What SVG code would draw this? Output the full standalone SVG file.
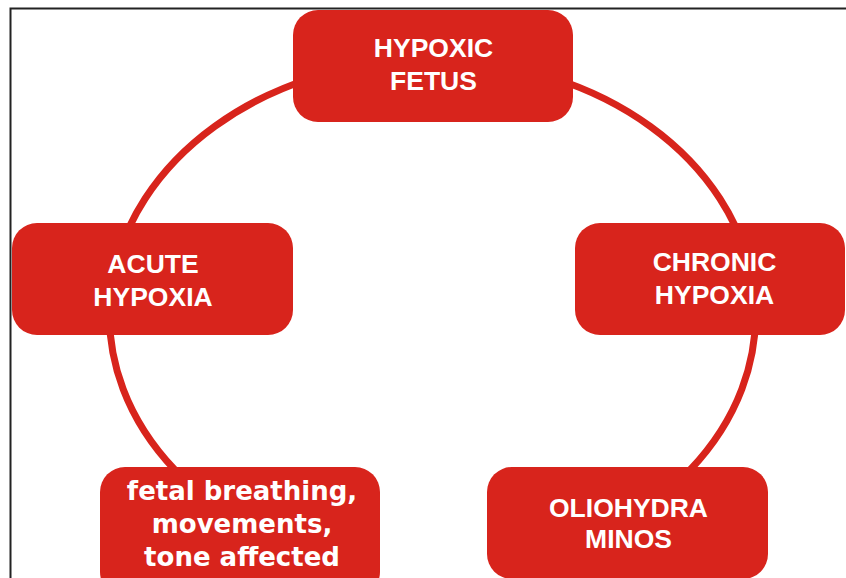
<svg xmlns="http://www.w3.org/2000/svg" width="846" height="578" viewBox="0 0 846 578">
<style>
.box{fill:#d8241c}
.cap{font-family:"Liberation Sans",Arial,sans-serif;font-weight:bold;font-size:26.5px;fill:#fff;text-anchor:middle}
.low{font-family:"DejaVu Sans",sans-serif;font-weight:bold;font-size:26px;fill:#fff;text-anchor:middle}
.conn{fill:none;stroke:#d8241c;stroke-width:7}
</style>
<rect width="846" height="578" fill="#fff"/>
<path d="M10.5 578 V8.5 H846" fill="none" stroke="#222" stroke-width="2"/>
<g id="connectors">
<path class="conn" d="M175 470 A323 256 0 1 1 690 470"/>
</g>
<g id="hypoxic-fetus">
<rect class="box" x="293" y="10" width="280" height="112" rx="25"/>
<text class="cap" x="433.5" y="57">HYPOXIC</text>
<text class="cap" x="433.5" y="90">FETUS</text>
</g>
<g id="acute-hypoxia">
<rect class="box" x="12" y="223" width="281" height="112" rx="25"/>
<text class="cap" x="153" y="273">ACUTE</text>
<text class="cap" x="153" y="306">HYPOXIA</text>
</g>
<g id="chronic-hypoxia">
<rect class="box" x="575" y="223" width="270" height="112" rx="25"/>
<text class="cap" x="714.5" y="271" font-size="28">CHRONIC</text>
<text class="cap" x="714.5" y="304">HYPOXIA</text>
</g>
<g id="fetal-effects">
<rect class="box" x="100" y="467" width="280" height="130" rx="25"/>
<text class="low" x="242" y="500">fetal breathing,</text>
<text class="low" x="242" y="533">movements,</text>
<text class="low" x="242" y="566">tone affected</text>
</g>
<g id="oligohydramnios">
<rect class="box" x="487" y="467" width="281" height="112" rx="25"/>
<text class="cap" x="628.5" y="517">OLIOHYDRA</text>
<text class="cap" x="628.5" y="548">MINOS</text>
</g>
</svg>
